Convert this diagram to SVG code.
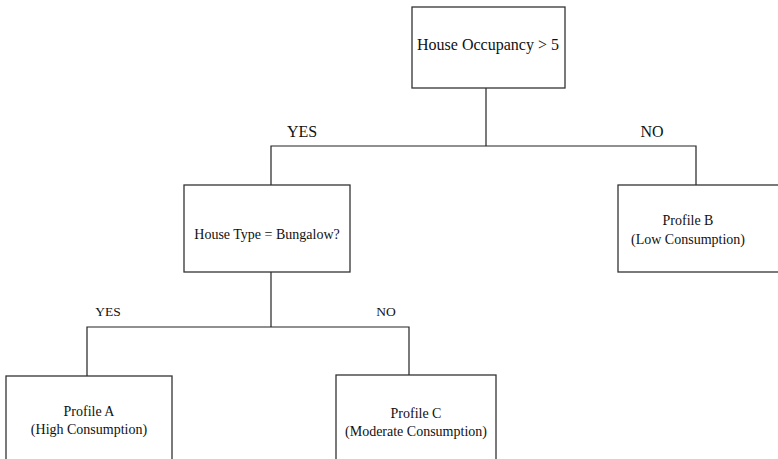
<svg xmlns="http://www.w3.org/2000/svg" width="778" height="459" viewBox="0 0 778 459">
  <style>
    .box { fill: #ffffff; stroke: #333333; stroke-width: 1.3; }
    .edge { fill: none; stroke: #222222; stroke-width: 1.2; }
    text { font-family: "Liberation Serif", "Times New Roman", serif; fill: #111111; text-anchor: middle; }
    .t16 { font-size: 16px; }
    .t14 { font-size: 14px; }
    .t13 { font-size: 13.5px; }
  </style>
  <rect width="778" height="459" fill="#ffffff"/>

  <!-- connectors -->
  <g id="connectors">
    <polyline class="edge" points="486,88 486,146"/>
    <polyline class="edge" points="271,185 271,146 696,146 696,185"/>
    <polyline class="edge" points="271,272 271,327"/>
    <polyline class="edge" points="87,376 87,327 409,327 409,376"/>
    <text class="t16" x="302" y="137">YES</text>
    <text class="t16" x="652" y="137">NO</text>
    <text class="t13" x="108" y="316">YES</text>
    <text class="t13" x="386" y="316">NO</text>
  </g>

  <!-- root decision -->
  <g id="occupancy">
    <rect class="box" x="412" y="7" width="153" height="81"/>
    <text class="t16" x="488" y="50">House Occupancy &gt; 5</text>
  </g>

  <!-- second decision -->
  <g id="housetype">
    <rect class="box" x="184" y="185" width="166" height="87"/>
    <text class="t14" x="267" y="239">House Type = Bungalow?</text>
  </g>

  <!-- leaf profiles -->
  <g id="profileB">
    <rect class="box" x="618" y="185" width="170" height="87"/>
    <text class="t14" x="688" y="225">Profile B</text>
    <text class="t14" x="688" y="244">(Low Consumption)</text>
  </g>

  <g id="profileA">
    <rect class="box" x="6" y="376" width="166" height="95"/>
    <text class="t14" x="89" y="416">Profile A</text>
    <text class="t14" x="89" y="434">(High Consumption)</text>
  </g>

  <g id="profileC">
    <rect class="box" x="336" y="375" width="160" height="96"/>
    <text class="t14" x="416" y="418">Profile C</text>
    <text class="t14" x="416" y="436">(Moderate Consumption)</text>
  </g>
</svg>
